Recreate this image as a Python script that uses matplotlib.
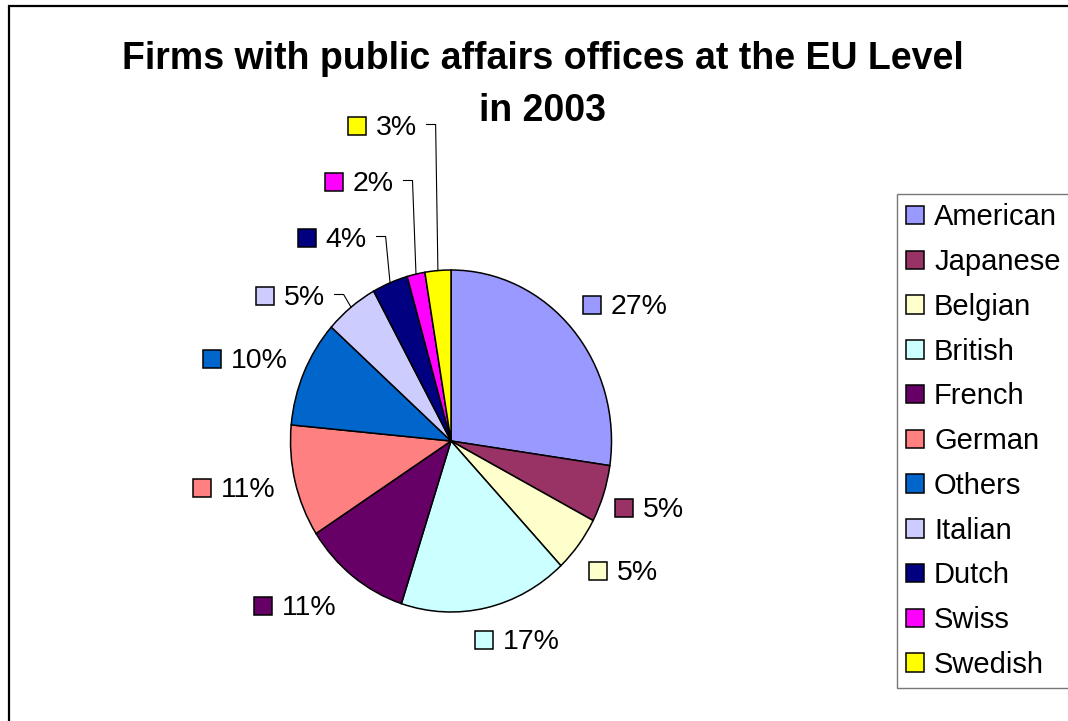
import numpy as np
import matplotlib
matplotlib.use("Agg")
import matplotlib.pyplot as plt
from matplotlib.patches import Patch, Rectangle
from matplotlib.lines import Line2D

W, H = 1068, 721

countries = ["American", "Japanese", "Belgian", "British", "French", "German",
             "Others", "Italian", "Dutch", "Swiss", "Swedish"]
shares = [27.3, 5.4, 5.3, 17.0, 10.9, 10.6, 10.1, 5.4, 3.6, 1.8, 2.6]
colors = ["#9999FF", "#993366", "#FFFFCC", "#CCFFFF", "#660066", "#FF8080",
          "#0066CC", "#CCCCFF", "#000080", "#FF00FF", "#FFFF00"]
title_lines = ["Firms with public affairs offices at the EU Level", "in 2003"]

# centre of the key square in front of each data label (pixels, from top-left)
label_keys = [(592, 305), (624, 508), (598, 571), (484, 640), (263, 606),
              (202, 488), (212, 359), (265, 296), (307, 238), (334, 182),
              (357, 126)]
# labels dragged away from their slice get a leader line
with_leader = {"Italian", "Dutch", "Swiss", "Swedish"}

FONT = "Liberation Sans"
LABEL_SIZE = 20.5


def fig_xy(x, y):
    return x / W, 1 - y / H


fig = plt.figure(figsize=(W / 100, H / 100), dpi=100)
fig.patch.set_facecolor("white")

# pie area: centre (451, 441), slightly taller than wide
cx, cy, rx, ry = 451, 441, 160.5, 171
ax = fig.add_axes([(cx - rx) / W, (H - cy - ry) / H, 2 * rx / W, 2 * ry / H])
wedges, _ = ax.pie(shares, colors=colors, startangle=90, counterclock=False,
                   wedgeprops=dict(edgecolor="black", linewidth=1.1))
ax.set_aspect("auto")
ax.set_xlim(-1, 1)
ax.set_ylim(-1, 1)
ax.axis("off")

renderer = fig.canvas.get_renderer()
to_fig = fig.transFigure.inverted()

for wedge, name, val, col, (kx, ky) in zip(wedges, countries, shares, colors, label_keys):
    ks = 17.5
    x0, y0 = fig_xy(kx - ks / 2, ky + ks / 2)
    fig.patches.append(Rectangle((x0, y0), ks / W, ks / H, transform=fig.transFigure,
                                 facecolor=col, edgecolor="black", linewidth=1.1))
    tx, ty = fig_xy(kx + 18.5, ky + 9)
    t = fig.text(tx, ty, f"{val:.0f}%", fontsize=LABEL_SIZE, family=FONT,
                 ha="left", va="baseline")
    if name in with_leader:
        # short horizontal stub after the text, then down to the slice edge
        right = t.get_window_extent(renderer).x1
        ly = H - (ky - 1.5)
        theta = np.deg2rad((wedge.theta1 + wedge.theta2) / 2)
        ex, ey = ax.transData.transform((np.cos(theta), np.sin(theta)))
        pts = to_fig.transform([(right + 10, ly), (right + 19, ly), (ex, ey)])
        fig.lines.append(Line2D(pts[:, 0], pts[:, 1], transform=fig.transFigure,
                                color="black", linewidth=0.8))

# two-line bold title, baselines 52 px apart
for i, line in enumerate(title_lines):
    fig.text(*fig_xy(542.5, 69 + 52 * i), line, fontsize=27, fontweight="bold",
             family=FONT, ha="center", va="baseline")

handles = [Patch(facecolor=c, edgecolor="black", linewidth=1.1) for c in colors]
leg = fig.legend(handles, countries, loc="upper left",
                 bbox_to_anchor=fig_xy(897, 194), bbox_transform=fig.transFigure,
                 prop=dict(family=FONT, size=21), frameon=True, fancybox=False,
                 edgecolor="#555555", borderaxespad=0, borderpad=0.32,
                 handlelength=0.6, handleheight=0.6, handletextpad=0.35,
                 labelspacing=0.575)
leg.get_frame().set_linewidth(1.0)

# outer chart border (runs off the right and bottom edges)
fig.patches.append(Rectangle((9 / W, -0.05), 1.2, 1.05 - 6 / H, transform=fig.transFigure,
                             fill=False, edgecolor="black", linewidth=1.6, clip_on=False))

fig.savefig("out.png", dpi=100)
